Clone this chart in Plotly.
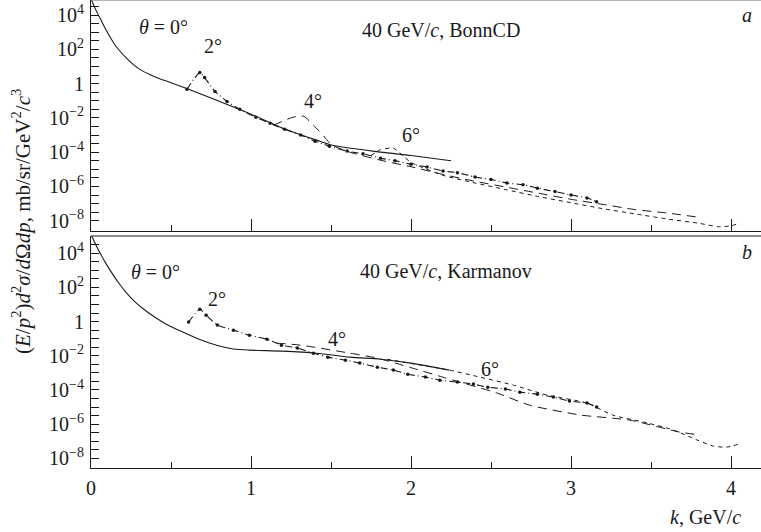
import plotly.graph_objects as go
from plotly.subplots import make_subplots

# ---------------- data (y stored as log10 of the cross section) ----------------
# Panel a: BonnCD
a_k_0 = [0.0, 0.03, 0.06, 0.09, 0.12, 0.15, 0.18, 0.22, 0.26, 0.31, 0.37, 0.43, 0.5, 0.61, 0.79, 0.99,
         1.2, 1.41, 1.51, 1.81, 2.0, 2.25]
a_lg_0 = [4.95, 4.3, 3.75, 3.2, 2.7, 2.25, 1.9, 1.5, 1.15, 0.8, 0.52, 0.28, 0.05, -0.33, -0.99, -1.74,
          -2.6, -3.3, -3.6, -4.0, -4.2, -4.5]

a_k_2 = [0.6, 0.68, 0.71, 0.775, 0.85, 0.93, 1.03, 1.12, 1.21, 1.31, 1.4, 1.49, 1.6, 1.7, 1.81,
         1.9, 2.0, 2.1, 2.2, 2.29, 2.4, 2.5, 2.6, 2.7, 2.79, 2.9, 3.0, 3.1, 3.16]
a_lg_2 = [-0.33, 0.64, 0.35, -0.46, -1.04, -1.5, -1.97, -2.32, -2.67, -3.0, -3.36, -3.65, -3.94, -4.1, -4.35,
          -4.5, -4.7, -4.87, -5.1, -5.2, -5.45, -5.6, -5.8, -5.9, -6.1, -6.3, -6.5, -6.67, -6.9]

a_k_4 = [1.14, 1.26, 1.33, 1.39, 1.44, 1.5, 1.6, 1.8, 2.0, 2.2, 2.4, 2.6, 2.8, 3.0, 3.2, 3.4, 3.6, 3.8]
a_lg_4 = [-2.43, -1.97, -1.91, -2.43, -2.9, -3.54, -3.95, -4.45, -4.85, -5.3, -5.7, -6.05, -6.4, -6.75,
          -7.05, -7.35, -7.55, -7.8]

a_k_6 = [1.75, 1.81, 1.89, 1.96, 2.0, 2.2, 2.4, 2.6, 2.8, 3.0, 3.2, 3.4, 3.6, 3.8, 3.92, 4.0, 4.05]
a_lg_6 = [-4.2, -3.85, -3.77, -4.3, -4.6, -5.35, -5.8, -6.2, -6.6, -6.95, -7.3, -7.6, -7.9, -8.15,
          -8.35, -8.3, -8.15]

# Panel b: Karmanov
b_k_0 = [0.0, 0.03, 0.06, 0.09, 0.12, 0.17, 0.22, 0.27, 0.33, 0.4, 0.47, 0.57, 0.68, 0.79, 0.89, 0.99,
         1.2, 1.41, 1.62, 1.81, 2.0, 2.24]
b_lg_0 = [5.1, 4.5, 3.95, 3.45, 3.0, 2.3, 1.7, 1.2, 0.72, 0.25, -0.15, -0.6, -1.05, -1.4, -1.6, -1.67,
          -1.73, -1.85, -2.08, -2.2, -2.43, -2.84]

b_k_2 = [0.61, 0.68, 0.72, 0.79, 0.89, 0.99, 1.1, 1.19, 1.29, 1.39, 1.48, 1.59, 1.68, 1.79, 1.89, 1.98,
         2.09, 2.18, 2.29, 2.39, 2.48, 2.59, 2.68, 2.79, 2.89, 2.99, 3.1, 3.16]
b_lg_2 = [-0.03, 0.72, 0.37, -0.2, -0.5, -0.8, -1.03, -1.38, -1.55, -1.85, -2.08, -2.26, -2.43, -2.67,
          -2.84, -3.08, -3.25, -3.43, -3.54, -3.66, -3.84, -3.95, -4.13, -4.25, -4.42, -4.65, -4.77, -5.0]

b_k_4 = [1.16, 1.31, 1.62, 1.79, 2.0, 2.22, 2.54, 2.74, 3.06, 3.37, 3.68, 3.81]
b_lg_4 = [-1.26, -1.38, -1.85, -2.14, -2.7, -3.31, -4.19, -4.89, -5.47, -5.77, -6.47, -6.64]

b_k_6 = [1.85, 2.0, 2.24, 2.43, 2.64, 2.85, 3.1, 3.26, 3.48, 3.64, 3.79, 3.89, 3.97, 4.05]
b_lg_6 = [-2.2, -2.45, -2.84, -3.25, -3.72, -4.3, -4.77, -5.47, -5.94, -6.35, -6.94, -7.29, -7.35, -7.17]

# axis ticks
y_tick_exp = [4, 2, 0, -2, -4, -6, -8]
y_tick_txt = ["10<sup>4</sup>", "10<sup>2</sup>", "1", "10<sup>−2</sup>", "10<sup>−4</sup>",
              "10<sup>−6</sup>", "10<sup>−8</sup>"]
x_ticks = [0, 1, 2, 3, 4]

# ---------------- figure ----------------
W, H = 761, 532
L = 91
FONT = "'Liberation Serif', 'Times New Roman', Times, serif"
INK = "#1a1a1a"
FS = 20

fig = make_subplots(rows=2, cols=1, shared_xaxes=True, vertical_spacing=0.0)

def lin(v):
    return [10 ** e for e in v]

styles = {
    0: dict(line=dict(color=INK, width=1.1, dash="solid", shape="spline", smoothing=0.8), mode="lines"),
    2: dict(line=dict(color=INK, width=1.1, dash="7px,3px,1px,3px", shape="spline", smoothing=0.6),
            mode="lines+markers", marker=dict(size=3.5, color=INK)),
    4: dict(line=dict(color=INK, width=1.0, dash="9px,6px", shape="spline", smoothing=0.6), mode="lines"),
    6: dict(line=dict(color=INK, width=1.0, dash="4px,4px", shape="spline", smoothing=0.6), mode="lines"),
}

panel_a = [(a_k_0, a_lg_0, 0), (a_k_2, a_lg_2, 2), (a_k_4, a_lg_4, 4), (a_k_6, a_lg_6, 6)]
panel_b = [(b_k_0, b_lg_0, 0), (b_k_2, b_lg_2, 2), (b_k_4, b_lg_4, 4), (b_k_6, b_lg_6, 6)]

for row, series in ((1, panel_a), (2, panel_b)):
    for k, lg, th in series:
        fig.add_trace(go.Scatter(x=k, y=lin(lg), showlegend=False, hoverinfo="skip",
                                 cliponaxis=True, **styles[th]), row=row, col=1)

# domains (pixel based)
ya_dom = [(H - 231) / H, 1.0]
yb_dom = [(H - 468) / H, (H - 236) / H]

xr = [0, (W - L) / 160.0]

common_x = dict(range=xr, showline=True, linecolor=INK, linewidth=1.2, ticks="inside",
                ticklen=12, tickwidth=1.2, tickcolor=INK, tickvals=x_ticks,
                minor=dict(ticks="inside", ticklen=6, tickwidth=1, tickcolor=INK, dtick=0.5, tick0=0),
                showgrid=False, zeroline=False, mirror=False)

fig.update_xaxes(**common_x)
fig.update_xaxes(showticklabels=False, row=1, col=1)
fig.update_xaxes(showticklabels=True, tickfont=dict(family=FONT, size=FS, color=INK),
                 ticklabelstandoff=2, row=2, col=1)

half_decades = [e / 2 for e in range(-16, 10)]
common_y = dict(type="log", showline=True, linecolor=INK, linewidth=1.2, ticks="inside",
                ticklen=8, tickwidth=1, tickcolor=INK, showgrid=False, zeroline=False,
                tickvals=[10 ** e for e in y_tick_exp], ticktext=y_tick_txt,
                minor=dict(ticks="inside", ticklen=8, tickwidth=1, tickcolor=INK,
                           tickvals=[10 ** e for e in half_decades]),
                tickfont=dict(family=FONT, size=FS, color=INK), ticklabelstandoff=2)
fig.update_yaxes(**common_y)
fig.update_yaxes(range=[-8.6, 4.875], domain=ya_dom, row=1, col=1)
fig.update_yaxes(range=[-8.57, 5.01], domain=yb_dom, row=2, col=1)

# frame lines at top of each panel
fig.add_shape(type="line", xref="paper", yref="paper", x0=0, x1=1, y0=1, y1=1,
              line=dict(color="#9a9a9a", width=1.5))
fig.add_shape(type="line", xref="paper", yref="paper", x0=0, x1=1, y0=yb_dom[1], y1=yb_dom[1],
              line=dict(color=INK, width=1.2))

def txt(s, x, y, xref, yref, size=FS, xanchor="center"):
    fig.add_annotation(text=s, x=x, y=y, xref=xref, yref=yref, showarrow=False,
                       font=dict(family=FONT, size=size, color=INK), xanchor=xanchor, yanchor="middle")

# panel a labels (data coordinates; y in log10 units)
txt("<i>θ</i> = 0°", 0.45, 3.3, "x", "y")
txt("2°", 0.76, 2.2, "x", "y")
txt("4°", 1.39, -1.0, "x", "y")
txt("6°", 2.0, -3.0, "x", "y")
txt("40 GeV/<i>c</i>, BonnCD", 2.19, 3.1, "x", "y")
txt("<i>a</i>", 4.1, 4.0, "x", "y")

# panel b labels
txt("<i>θ</i> = 0°", 0.4, 2.9, "x2", "y2")
txt("2°", 0.79, 1.3, "x2", "y2")
txt("4°", 1.54, -1.0, "x2", "y2")
txt("6°", 2.495, -2.8, "x2", "y2")
txt("40 GeV/<i>c</i>, Karmanov", 2.22, 2.95, "x2", "y2")
txt("<i>b</i>", 4.1, 4.1, "x2", "y2")

# axis titles
fig.add_annotation(text="<i>k</i>, GeV/<i>c</i>", xref="paper", yref="paper",
                   x=(705 - L) / (W - L), y=(H - 517) / H, showarrow=False,
                   font=dict(family=FONT, size=FS, color=INK), xanchor="center", yanchor="middle")
fig.add_annotation(text="(<i>E</i>/<i>p</i><sup>2</sup>)<i>d</i><sup>2</sup><i>σ</i>/<i>d</i>Ω<i>dp</i>, mb/sr/GeV<sup>2</sup>/<i>c</i><sup>3</sup>",
                   xref="paper", yref="paper", x=(22 - L) / (W - L), y=(H - 222) / H,
                   textangle=-90, showarrow=False,
                   font=dict(family=FONT, size=21, color=INK), xanchor="center", yanchor="middle")

fig.update_layout(width=W, height=H, margin=dict(l=L, r=0, t=0, b=0),
                  font=dict(family=FONT, color=INK),
                  paper_bgcolor="white", plot_bgcolor="white", showlegend=False)

fig.write_html("out.html")
